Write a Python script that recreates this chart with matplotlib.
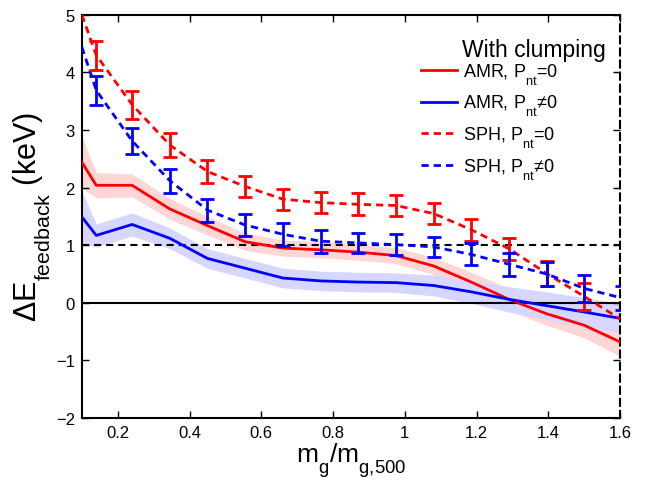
import matplotlib
matplotlib.use("Agg")
import matplotlib.pyplot as plt
import matplotlib._mathtext as _mt
import numpy as np

# lower subscripts (MATLAB-like look)
_mt.FontConstantsBase.sub1 = 0.85

plt.rcParams['font.family'] = ['Liberation Sans', 'DejaVu Sans']
plt.rcParams['mathtext.fontset'] = 'custom'
plt.rcParams['mathtext.rm'] = 'Liberation Sans'
plt.rcParams['mathtext.it'] = 'Liberation Sans'

# AMR curves (solid lines with shaded bands)
x_amr = [0.1, 0.14, 0.24, 0.345, 0.45, 0.555, 0.66, 0.765, 0.87, 0.975, 1.08, 1.185, 1.29, 1.395, 1.5, 1.6]
amr_pnt0 = [2.44, 2.04, 2.04, 1.63, 1.34, 1.06, 0.95, 0.92, 0.88, 0.82, 0.64, 0.36, 0.06, -0.19, -0.39, -0.68]
amr_pnt0_band = [0.45, 0.22, 0.2, 0.18, 0.16, 0.15, 0.14, 0.14, 0.14, 0.14, 0.15, 0.17, 0.19, 0.2, 0.22, 0.25]
amr_pnt1 = [1.49, 1.17, 1.36, 1.12, 0.77, 0.6, 0.43, 0.38, 0.36, 0.35, 0.30, 0.19, 0.06, -0.05, -0.16, -0.27]
amr_pnt1_band = [0.45, 0.2, 0.2, 0.18, 0.17, 0.17, 0.17, 0.17, 0.17, 0.17, 0.18, 0.2, 0.22, 0.24, 0.25, 0.26]

# SPH curves (dashed lines with error bars)
x_sph_line = [0.1, 0.14, 0.24, 0.345, 0.45, 0.555, 0.66, 0.765, 0.87, 0.975, 1.08, 1.185, 1.29, 1.395, 1.5, 1.6]
sph_pnt0 = [5.0, 4.3, 3.44, 2.74, 2.28, 2.02, 1.80, 1.74, 1.71, 1.69, 1.55, 1.27, 0.94, 0.51, 0.11, -0.28]
sph_pnt1 = [4.44, 3.69, 2.81, 2.12, 1.61, 1.35, 1.19, 1.07, 1.04, 1.01, 0.97, 0.84, 0.67, 0.50, 0.25, 0.09]
x_err = [0.14, 0.24, 0.345, 0.45, 0.555, 0.66, 0.765, 0.87, 0.975, 1.08, 1.185, 1.29, 1.395, 1.5]
sph_pnt0_err = [0.25, 0.24, 0.21, 0.2, 0.19, 0.18, 0.18, 0.19, 0.19, 0.19, 0.19, 0.19, 0.22, 0.23]
sph_pnt1_err = [0.25, 0.23, 0.21, 0.2, 0.19, 0.2, 0.2, 0.17, 0.18, 0.18, 0.19, 0.2, 0.21, 0.24]
x_err_end = [1.605]
sph_pnt1_end = [0.09]
sph_pnt1_end_err = [0.21]

xticks = [0.2, 0.4, 0.6, 0.8, 1.0, 1.2, 1.4, 1.6]
xticklabels = ['0.2', '0.4', '0.6', '0.8', '1', '1.2', '1.4', '1.6']
yticks = [-2, -1, 0, 1, 2, 3, 4, 5]
yticklabels = ['\u22122', '\u22121', '0', '1', '2', '3', '4', '5']

legend_title = 'With clumping'
legend_labels = [r'AMR, P$_\mathregular{nt}$=0', r'AMR, P$_\mathregular{nt}$' + '\u22600',
                 r'SPH, P$_\mathregular{nt}$=0', r'SPH, P$_\mathregular{nt}$' + '\u22600']

W, H = 650, 481
fig = plt.figure(figsize=(W / 100, H / 100), dpi=100)
ax = fig.add_axes([0.126, 0.129, 0.828, 0.838])

red = '#ff0000'
blue = '#0000ff'
dash = (0, (2.6, 1.8))

ax.fill_between(x_amr, np.array(amr_pnt0) - np.array(amr_pnt0_band),
                np.array(amr_pnt0) + np.array(amr_pnt0_band), color='#ffd6d6', lw=0, zorder=1)
ax.fill_between(x_amr, np.array(amr_pnt1) - np.array(amr_pnt1_band),
                np.array(amr_pnt1) + np.array(amr_pnt1_band), color='#d6d6ff', lw=0, zorder=1)

ax.axhline(0, color='black', lw=1.5, zorder=2)
ax.axhline(1, color='black', lw=1.5, ls=(0, (3.4, 2.4)), zorder=2)

l1, = ax.plot(x_amr, amr_pnt0, color=red, lw=2, zorder=3)
l2, = ax.plot(x_amr, amr_pnt1, color=blue, lw=2, zorder=3)
l3, = ax.plot(x_sph_line, sph_pnt0, color=red, lw=2, ls=dash, zorder=3)
l4, = ax.plot(x_sph_line, sph_pnt1, color=blue, lw=2, ls=dash, zorder=3)

ax.errorbar(x_err, [sph_pnt0[x_sph_line.index(v)] for v in x_err], yerr=sph_pnt0_err,
            fmt='none', ecolor=red, elinewidth=2, capsize=5, capthick=2, zorder=4)
ax.errorbar(x_err, [sph_pnt1[x_sph_line.index(v)] for v in x_err], yerr=sph_pnt1_err,
            fmt='none', ecolor=blue, elinewidth=2, capsize=5, capthick=2, zorder=4)
ax.errorbar(x_err_end, sph_pnt1_end, yerr=sph_pnt1_end_err,
            fmt='none', ecolor=blue, elinewidth=2, capsize=5, capthick=2, zorder=4)

ax.set_xlim(0.1, 1.6)
ax.set_ylim(-2, 5)
ax.set_xticks(xticks)
ax.set_xticklabels(xticklabels)
ax.set_yticks(yticks)
ax.set_yticklabels(yticklabels)
ax.tick_params(direction='in', top=True, right=True, length=5, width=1, labelsize=12, pad=5)
for s in ['left', 'bottom', 'top']:
    ax.spines[s].set_linewidth(1.5)
ax.spines['right'].set_linestyle((0, (3.4, 2.4)))
ax.spines['right'].set_linewidth(1.5)

ax.set_xlabel(r'm$_\mathregular{g}$/m$_\mathregular{g{,}500}$', fontsize=19, labelpad=0.5)
ax.set_ylabel(r'$\Delta$E$_\mathregular{feedback}$ (keV)', fontsize=22, labelpad=2)

fig.text(462 / W, 1 - 57 / H, legend_title, fontsize=16.5, ha='left', va='baseline')
leg = fig.legend([l1, l2, l3, l4], legend_labels,
                 loc='upper left', bbox_to_anchor=(421 / W, 1 - 62 / H),
                 frameon=False, fontsize=13, handlelength=2.0,
                 handletextpad=0.3, labelspacing=0.35, borderpad=0, borderaxespad=0)

fig.savefig('out.png', dpi=100)
